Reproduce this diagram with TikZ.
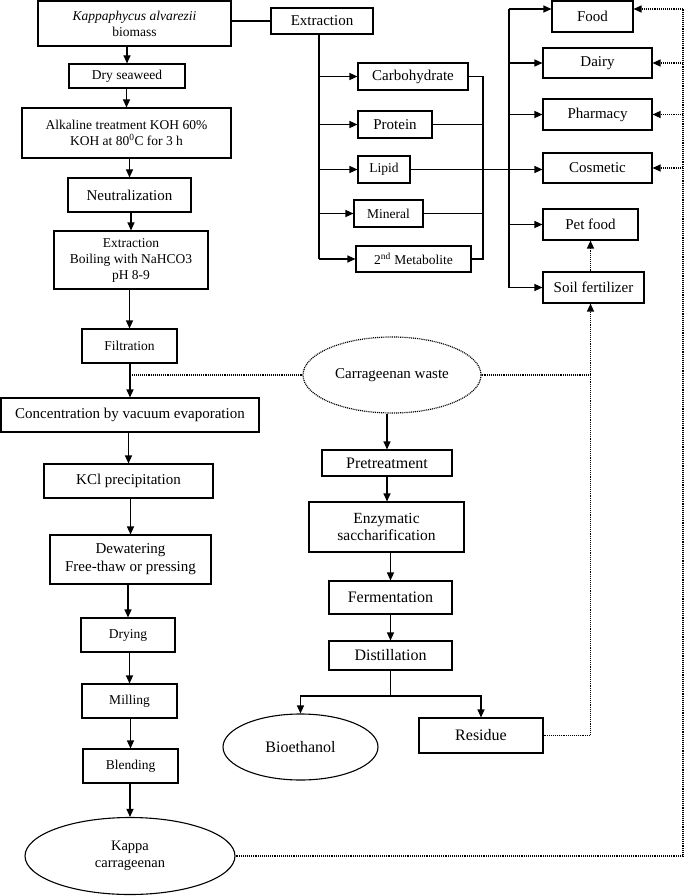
\documentclass[tikz,border=0pt]{standalone}
\usepackage{fontspec}
\setmainfont{Liberation Serif}
\usetikzlibrary{arrows.meta,shapes.geometric}
\tikzset{
  base/.style={draw, line width=1.1pt, inner sep=0pt, align=center, font=\fontsize{15}{16}\selectfont},
  box/.style={base, rectangle},
  sbox/.style={box, font=\fontsize{13.5}{16}\selectfont},
  lbox/.style={box, font=\fontsize{16}{18}\selectfont},
  ell/.style={base, ellipse},
  ln/.style={line width=1.1pt},
  arr/.style={ln, -{Triangle[length=8pt,width=7pt]}},
  dotln/.style={line width=1.2pt, dash pattern=on 1pt off 0.9pt},
  dotarr/.style={dotln, -{Triangle[length=8pt,width=7pt]}},
}
\begin{document}
\begin{tikzpicture}[x=1pt,y=-1pt]
\useasboundingbox (0,0) rectangle (685,896);
% left column
\node[sbox, minimum width=193, minimum height=45] (bio) at (134.5,23.5) {\textit{Kappaphycus alvarezii}\\biomass};
\node[box, minimum width=102, minimum height=26] (ext1) at (322,21) {Extraction};
\node[sbox, minimum width=116, minimum height=24] (dry) at (127,76) {Dry seaweed};
\node[sbox, minimum width=209, minimum height=50] (alk) at (126.5,133) {Alkaline treatment KOH 60\%\\KOH at 80\textsuperscript{0}C for 3 h};
\node[box, minimum width=123, minimum height=34] (neu) at (129.5,195) {Neutralization};
\node[sbox, minimum width=154, minimum height=58] (ext2) at (131,260) {Extraction\\Boiling with NaHCO3\\pH 8-9};
\node[sbox, minimum width=95, minimum height=34] (fil) at (129.5,346) {Filtration};
\node[box, minimum width=258, minimum height=34] (conc) at (130,415) {Concentration by vacuum evaporation};
\node[box, minimum width=169, minimum height=34] (kcl) at (128.5,481) {KCl precipitation};
\node[box, minimum width=161, minimum height=49, font=\fontsize{15}{18}\selectfont] (dew) at (130.5,559.5) {Dewatering\\Free-thaw or pressing};
\node[sbox, minimum width=94, minimum height=34] (dryg) at (128,635) {Drying};
\node[sbox, minimum width=95, minimum height=34] (mill) at (129.5,701) {Milling};
\node[sbox, minimum width=95, minimum height=34] (blend) at (130.5,766) {Blending};
\node[ell, minimum width=210, minimum height=77, font=\fontsize{14.5}{17}\selectfont] (kappa) at (130,856) {Kappa\\carrageenan};
% middle column
\node[ell, dotln, minimum width=178, minimum height=76] (waste) at (392,375) {Carrageenan waste};
\node[lbox, minimum width=130, minimum height=26] (pre) at (387,463) {Pretreatment};
\node[box, minimum width=155, minimum height=50, font=\fontsize{15.5}{17}\selectfont] (enz) at (386.5,527) {Enzymatic\\saccharification};
\node[lbox, minimum width=123, minimum height=33] (ferm) at (390.5,597.5) {Fermentation};
\node[lbox, minimum width=123, minimum height=29] (dist) at (390.5,655.5) {Distillation};
\node[ell, minimum width=155, minimum height=66, font=\fontsize{16}{18}\selectfont] (bioeth) at (300.5,747) {Bioethanol};
\node[lbox, minimum width=124, minimum height=35] (res) at (481,735.5) {Residue};
% extraction products
\node[box, minimum width=110, minimum height=27] (carb) at (413,76.5) {Carbohydrate};
\node[box, minimum width=74, minimum height=27] (prot) at (395,124.5) {Protein};
\node[sbox, minimum width=52, minimum height=27] (lip) at (384,169.5) {Lipid};
\node[sbox, minimum width=69, minimum height=27] (min) at (388.5,213.5) {Mineral};
\node[sbox, minimum width=115, minimum height=26] (met) at (413.5,259) {2\textsuperscript{nd} Metabolite};
% applications
\node[box, minimum width=81, minimum height=31] (food) at (592.5,16.5) {Food};
\node[box, minimum width=109, minimum height=30] (dairy) at (597.5,63) {Dairy};
\node[box, minimum width=109, minimum height=31] (pharm) at (597.5,114.5) {Pharmacy};
\node[box, minimum width=109, minimum height=30] (cosm) at (597.5,168) {Cosmetic};
\node[box, minimum width=95, minimum height=31] (pet) at (590.5,224.5) {Pet food};
\node[box, minimum width=101, minimum height=31] (soil) at (593.5,287.5) {Soil fertilizer};
% coordinates
\coordinate (tr) at (319,259);
\coordinate (col) at (483,0);
\coordinate (tr2) at (509,9);
\coordinate (rtop) at (683,9);
\coordinate (br) at (390.5,696);
% left chain
\draw[ln] (bio.east |- ext1.west) -- (ext1.west);
\draw[arr] (dry.north |- bio.south) -- (dry.north);
\draw[arr] (alk.north |- dry.south) -- (alk.north);
\draw[arr] (neu.north |- alk.south) -- (neu.north);
\draw[arr] (ext2.north |- neu.south) -- (ext2.north);
\draw[arr] (fil.north |- ext2.south) -- (fil.north);
\draw[arr] (conc.north |- fil.south) -- (conc.north);
\draw[arr] (kcl.north |- conc.south) -- (kcl.north);
\draw[arr] (dew.north |- kcl.south) -- (dew.north);
\draw[arr] (dryg.north |- dew.south) -- (dryg.north);
\draw[arr] (mill.north |- dryg.south) -- (mill.north);
\draw[arr] (blend.north |- mill.south) -- (blend.north);
\draw[arr] (kappa.north |- blend.south) -- (kappa.north);
% middle chain
\draw[dotln] (waste.west) -- (waste.west -| conc.north);
\draw[arr] (pre.north |- waste.south) -- (pre.north);
\draw[arr] (pre.south) -- (pre.south |- enz.north);
\draw[arr] (ferm.north |- enz.south) -- (ferm.north);
\draw[arr] (ferm.south) -- (dist.north);
\draw[ln] (dist.south) -- (br);
\draw[arr] (br) -| (bioeth.north);
\draw[arr] (br) -| (res.north);
\draw[dotarr] (res.east) -| (soil.south -| pet.south);
\draw[dotln] (waste.east) -- (waste.east -| pet.south);
\draw[dotarr] (pet.south |- soil.north) -- (pet.south);
% extraction tree
\draw[ln] (ext1.south -| tr) -- (tr);
\draw[arr] (carb.west -| tr) -- (carb.west);
\draw[arr] (prot.west -| tr) -- (prot.west);
\draw[arr] (lip.west -| tr) -- (lip.west);
\draw[arr] (min.west -| tr) -- (min.west);
\draw[arr] (tr) -- (met.west);
\draw[ln] (carb.east) -- (carb.east -| col) -- (met.east -| col) -- (met.east);
\draw[ln] (prot.east) -- (prot.east -| col);
\draw[ln] (min.east) -- (min.east -| col);
\draw[arr] (lip.east) -- (lip.east -| cosm.west);
% application trunk
\draw[ln] (tr2) -- (soil.west -| tr2);
\draw[arr] (tr2) -- (tr2 -| food.west);
\draw[arr] (dairy.west -| tr2) -- (dairy.west);
\draw[arr] (pharm.west -| tr2) -- (pharm.west);
\draw[arr] (pet.west -| tr2) -- (pet.west);
\draw[arr] (soil.west -| tr2) -- (soil.west);
% kappa feedback
\draw[dotln] (kappa.east) -- (kappa.east -| rtop) -- (rtop);
\draw[dotarr] (rtop) -- (rtop -| food.east);
\draw[dotarr] (dairy.east -| rtop) -- (dairy.east);
\draw[dotarr] (pharm.east -| rtop) -- (pharm.east);
\draw[dotarr] (cosm.east -| rtop) -- (cosm.east);
\end{tikzpicture}
\end{document}
